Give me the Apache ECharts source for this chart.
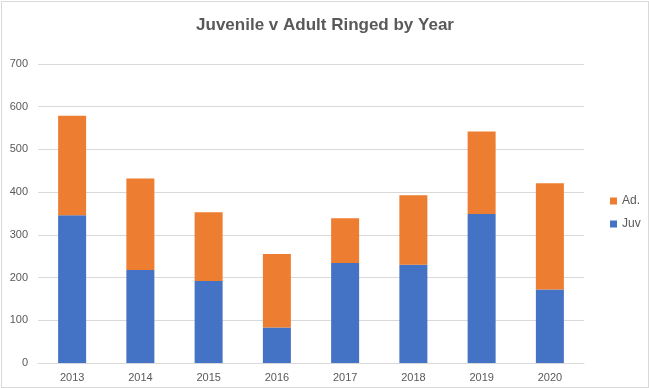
<!DOCTYPE html>
<html><head><meta charset="utf-8">
<script src="https://cdn.jsdelivr.net/npm/echarts@6/dist/echarts.min.js"></script>
<style>html,body{margin:0;padding:0;background:#fff}#c{position:absolute;left:1px;top:1px;width:646px;height:385px;border:1px solid #d9d9d9}</style>
</head><body><div id="c"></div>
<script>
const categories = ['2013','2014','2015','2016','2017','2018','2019','2020'];
const juv = [346, 218, 192, 83, 234, 230, 349, 172];
const ad = [233, 214, 161, 172, 105, 163, 193, 249];
const yTicks = {min: 0, max: 700, interval: 100};

const chart = echarts.init(document.getElementById('c'));
chart.setOption({
  animation: false,
  title: {text: 'Juvenile v Adult Ringed by Year', left: 'center', top: 10,
    textStyle: {fontFamily: 'Liberation Sans', fontWeight: 'bold', fontSize: 17, color: '#595959'}},
  legend: {orient: 'vertical', left: 603, top: 188, itemWidth: 7, itemHeight: 7, itemGap: 11,
    icon: 'rect', data: ['Ad.', 'Juv'],
    textStyle: {fontFamily: 'Liberation Sans', fontSize: 12, color: '#595959'}},
  grid: {left: 36, right: 64, top: 62, bottom: 24, containLabel: false},
  xAxis: {type: 'category', data: categories,
    axisLine: {lineStyle: {color: '#d9d9d9'}}, axisTick: {show: false},
    axisLabel: {fontFamily: 'Liberation Sans', fontSize: 11, color: '#595959', margin: 9}},
  yAxis: {type: 'value', min: yTicks.min, max: yTicks.max, interval: yTicks.interval,
    axisLine: {show: false}, axisTick: {show: false},
    splitLine: {lineStyle: {color: '#d9d9d9'}},
    axisLabel: {fontFamily: 'Liberation Sans', fontSize: 11, color: '#595959', margin: 10}},
  series: [
    {name: 'Juv', type: 'bar', stack: 't', data: juv, barWidth: 28, itemStyle: {color: '#4472C4'}},
    {name: 'Ad.', type: 'bar', stack: 't', data: ad, barWidth: 28, itemStyle: {color: '#ED7D31'}}
  ]
});
</script></body></html>
